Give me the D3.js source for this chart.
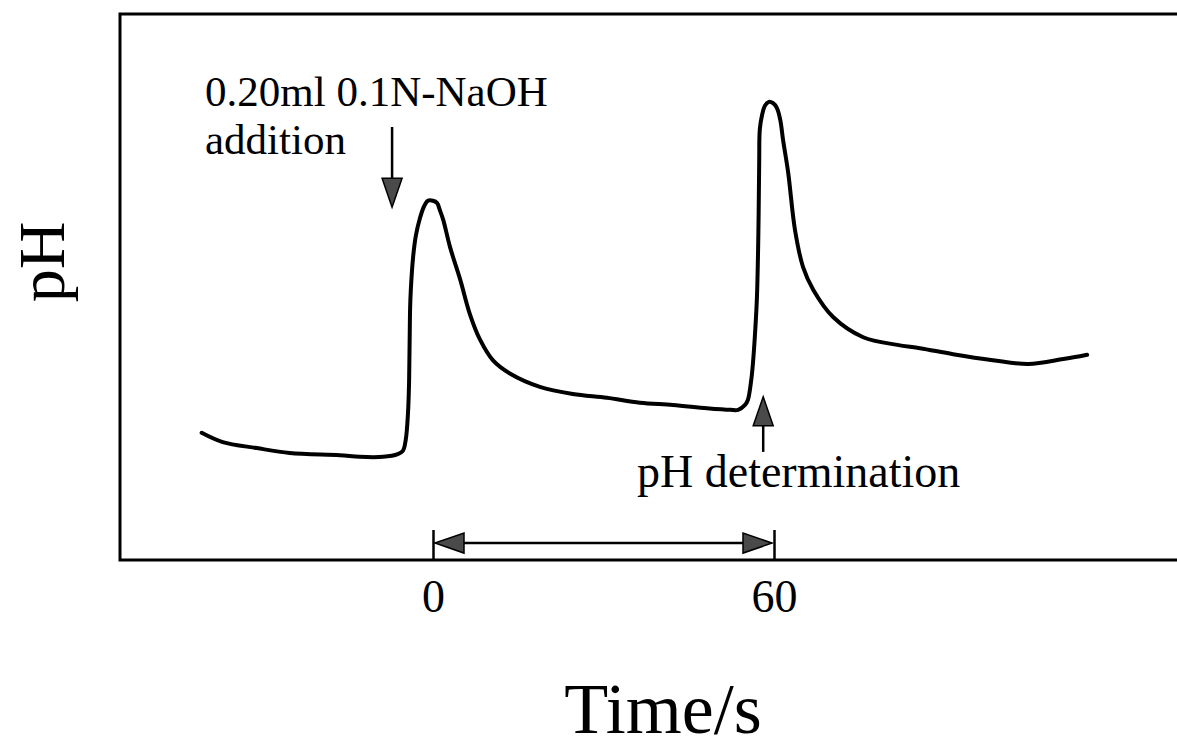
<!DOCTYPE html>
<meta charset="utf-8">
<html>
<head>
    <title>pH vs time</title>
    <script src="https://d3js.org/d3.v7.min.js"></script>
    <style>
        body { margin: 0; background: #fff; }
        text { font-family: "Liberation Serif", "Times New Roman", serif; fill: #000; }
    </style>
</head>
<body>
<script>

    // time in seconds (0 = base addition mark, 60 = pH determination)
    var timeValues = [-40.7, -37.0, -31.0, -25.2, -16.4, -12.9, -8.8, -6.2, -5.3, -4.8, -4.4, -4.2, -4.05, -3.9, -3.5,
        -3.0, -2.3, -1.6, -0.9, 0.0, 0.7, 1.2, 1.8, 3.0, 4.8, 6.5, 8.3, 10.6, 13.6, 18.8, 24.6, 30.6, 36.4, 42.2,
        48.2, 52.3, 53.7, 54.9, 55.4, 56.0, 56.3, 56.7, 57.0, 57.2, 57.3, 57.4, 57.5, 57.9, 58.4, 59.1, 59.8, 60.5,
        61.1, 61.6, 62.5, 63.7, 65.1, 66.9, 70.4, 75.7, 81.7, 85.7, 91.5, 98.5, 104.7, 110.9, 115.1];

    // relative pH reading (arbitrary units, recorder trace)
    var phValues = [23.3, 21.6, 20.5, 19.6, 19.2, 18.9, 18.9, 19.4, 20.0, 22.0, 26.9, 33.0, 45.2, 49.5, 55.5,
        59.5, 62.6, 64.7, 65.8, 65.8, 65.4, 64.1, 62.3, 57.3, 51.3, 45.0, 40.3, 36.5, 34.1, 31.7, 30.4, 29.7, 28.8, 28.4,
        27.8, 27.5, 27.5, 28.4, 29.3, 33.0, 36.1, 42.1, 48.2, 56.8, 63.6, 73.3, 78.8, 81.5, 83.2, 83.9, 83.7, 82.8,
        80.6, 76.9, 70.9, 60.4, 53.7, 49.5, 44.5, 40.8, 39.4, 38.8, 37.7, 36.6, 35.9, 36.8, 37.6];

    var tickValues = [0, 60];
    var tickLabels = ["0", "60"];

    // annotation arrows: [time, from value, to value]
    var additionArrow = [-7.2, 79.3, 64.6];
    var determinationArrow = [58.1, 19.8, 29.9];
    var intervalArrow = [0, 60, 3.1];

    var width = 1177,
        height = 749;

    var frame = {left: 120, top: 14, bottom: 560, right: 1180};

    var svg = d3.select("body").append("svg")
        .attr("width", width)
        .attr("height", height);

    var x = d3.scaleLinear()
        .domain([0, 60])
        .range([433, 774]);

    var y = d3.scaleLinear()
        .domain([0, 100])
        .range([frame.bottom, frame.top]);

    // frame: left, top and bottom only (right side runs off the page)
    svg.append("path")
        .attr("d", "M" + frame.right + "," + frame.top + "H" + frame.left + "V" + frame.bottom + "H" + frame.right)
        .attr("fill", "none")
        .attr("stroke", "#000")
        .attr("stroke-width", 3);

    // x axis with inward ticks at 0 and 60
    var xAxis = svg.append("g")
        .attr("transform", "translate(0," + frame.bottom + ")")
        .call(d3.axisBottom(x)
            .tickValues(tickValues)
            .tickFormat(function (d, i) { return tickLabels[i]; })
            .tickSizeInner(-30)
            .tickSizeOuter(0));

    xAxis.select(".domain").remove();
    xAxis.selectAll(".tick line")
        .attr("stroke", "#000")
        .attr("stroke-width", 2.5);
    xAxis.selectAll(".tick text")
        .attr("y", 52)
        .attr("dy", 0)
        .style("font-family", "Liberation Serif")
        .style("font-size", "46px")
        .attr("fill", "#000");

    // the trace
    var points = timeValues.map(function (t, i) { return [t, phValues[i]]; });

    var line = d3.line()
        .x(function (d) { return x(d[0]); })
        .y(function (d) { return y(d[1]); })
        .curve(d3.curveCatmullRom.alpha(0.5));

    svg.append("path")
        .datum(points)
        .attr("d", line)
        .attr("fill", "none")
        .attr("stroke", "#000")
        .attr("stroke-width", 4)
        .attr("stroke-linejoin", "round")
        .attr("stroke-linecap", "round");

    // arrowhead helper (tip at px,py pointing in direction dx,dy)
    function head(px, py, dx, dy, len, half) {
        var bx = px - dx * len, by = py - dy * len;
        return "M" + px + "," + py +
            "L" + (bx - dy * half) + "," + (by + dx * half) +
            "L" + (bx + dy * half) + "," + (by - dx * half) + "Z";
    }

    function arrowLine(x1, y1, x2, y2) {
        svg.append("line")
            .attr("x1", x1).attr("y1", y1)
            .attr("x2", x2).attr("y2", y2)
            .attr("stroke", "#000")
            .attr("stroke-width", 2.5);
    }

    function arrowHead(px, py, dx, dy) {
        svg.append("path")
            .attr("d", head(px, py, dx, dy, 29, 10))
            .attr("fill", "#4a4a4a")
            .attr("stroke", "#000")
            .attr("stroke-width", 1.5);
    }

    // NaOH addition arrow (down)
    var ax = x(additionArrow[0]);
    arrowLine(ax, y(additionArrow[1]), ax, y(additionArrow[2]) - 25);
    arrowHead(ax, y(additionArrow[2]), 0, 1);

    // pH determination arrow (up)
    var dx = x(determinationArrow[0]);
    arrowLine(dx, y(determinationArrow[1]), dx, y(determinationArrow[2]) + 25);
    arrowHead(dx, y(determinationArrow[2]), 0, -1);

    // 60 s interval double arrow
    var iy = y(intervalArrow[2]);
    arrowLine(x(intervalArrow[0]) + 20, iy, x(intervalArrow[1]) - 20, iy);
    arrowHead(x(intervalArrow[0]) + 2, iy, -1, 0);
    arrowHead(x(intervalArrow[1]) - 2, iy, 1, 0);

    // labels
    svg.append("text")
        .attr("x", 205)
        .attr("y", 106)
        .style("font-size", "43px")
        .text("0.20ml 0.1N-NaOH");

    svg.append("text")
        .attr("x", 205)
        .attr("y", 154)
        .style("font-size", "43px")
        .text("addition");

    svg.append("text")
        .attr("x", 637)
        .attr("y", 487)
        .style("font-size", "46px")
        .text("pH determination");

    svg.append("text")
        .attr("x", 663)
        .attr("y", 733)
        .attr("text-anchor", "middle")
        .style("font-size", "72px")
        .text("Time/s");

    svg.append("text")
        .attr("transform", "translate(64,262) rotate(-90)")
        .attr("text-anchor", "middle")
        .style("font-size", "66px")
        .text("pH");

</script>
</body>
</html>
